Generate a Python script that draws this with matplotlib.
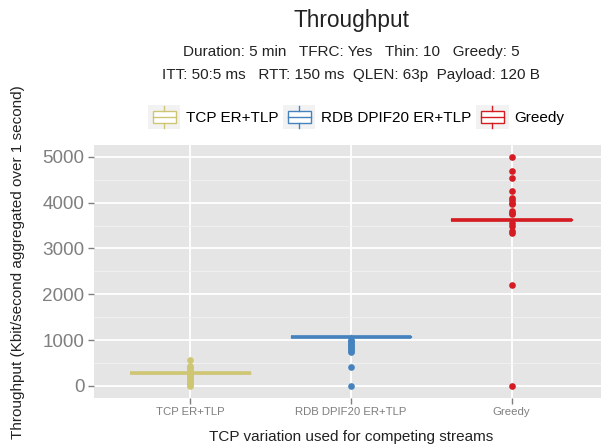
import matplotlib
matplotlib.use("Agg")
import matplotlib.pyplot as plt
from matplotlib.patches import Rectangle, Patch
from matplotlib.lines import Line2D
from matplotlib.legend_handler import HandlerBase
from matplotlib.ticker import MultipleLocator

plt.rcParams['font.family'] = ['Liberation Sans', 'DejaVu Sans']

# ---- data ----
categories = ["TCP ER+TLP", "RDB DPIF20 ER+TLP", "Greedy"]
colors = ["#CFC673", "#4682BE", "#D41C22"]
medians = [290, 1075, 3630]
q1 = [290, 1075, 3625]
q3 = [290, 1080, 3635]
whislo = [290, 1075, 3625]
whishi = [290, 1100, 3640]
outliers_tcp = [560, 430, 400, 370, 340, 310, 280, 250, 220, 190, 160, 130, 100, 70, 40, 10, 0]
outliers_rdb = [1010, 980, 950, 920, 890, 860, 830, 800, 770, 740, 414, 0]
outliers_greedy = [5000, 4700, 4530, 4260, 4100, 4050, 4000, 3970, 3820, 3780, 3750,
                   3550, 3500, 3380, 3330, 2200, 0]
outliers = [outliers_tcp, outliers_rdb, outliers_greedy]
yticks = [0, 1000, 2000, 3000, 4000, 5000]

fig = plt.figure(figsize=(6.01, 4.46), dpi=100)
W, H = 601, 446
l, r, t, b = 94, 608, 145, 397.7
ax = fig.add_axes([l / W, 1 - b / H, (r - l) / W, (b - t) / H])
ax.set_facecolor("#E5E5E5")

positions = list(range(1, len(categories) + 1))
for i, pos in enumerate(positions):
    st = dict(med=medians[i], q1=q1[i], q3=q3[i], whislo=whislo[i], whishi=whishi[i],
              fliers=outliers[i], label=categories[i])
    ax.bxp([st], positions=[pos], widths=0.75, showcaps=False, patch_artist=True,
           boxprops=dict(facecolor="white", edgecolor=colors[i], linewidth=1.0),
           medianprops=dict(color=colors[i], linewidth=2.6),
           whiskerprops=dict(color=colors[i], linewidth=1.0),
           flierprops=dict(marker='o', markerfacecolor=colors[i], markeredgecolor='none',
                           markersize=4.8, linestyle='none'),
           zorder=3)

ax.set_xlim(0.4, 3.6)
ax.set_ylim(-260, 5260)
ax.set_xticks(positions)
ax.set_xticklabels(categories, fontsize=8.2, color="#7F7F7F")
ax.set_yticks(yticks)
ax.set_yticklabels([str(v) for v in yticks], fontsize=13.6, color="#7F7F7F")
ax.yaxis.set_minor_locator(MultipleLocator(500))
ax.grid(which='major', color='white', linewidth=1.3, zorder=0)
ax.grid(which='minor', axis='y', color='#F2F2F2', linewidth=0.6, zorder=0)
ax.set_axisbelow(True)
ax.tick_params(axis='both', which='major', length=4, width=1, color="#7F7F7F", pad=3)
ax.tick_params(axis='y', which='minor', length=0)
for s in ax.spines.values():
    s.set_visible(False)

cx = (l + r) / 2 / W
fig.text(cx, 1 - 20 / H, "Throughput", ha='center', va='center', fontsize=16.3, color="#222222")
fig.text(cx, 1 - 52 / H, "Duration: 5 min   TFRC: Yes   Thin: 10   Greedy: 5",
         ha='center', va='center', fontsize=11, color="#222222")
fig.text(cx, 1 - 75 / H, "ITT: 50:5 ms   RTT: 150 ms  QLEN: 63p  Payload: 120 B",
         ha='center', va='center', fontsize=11, color="#222222")
fig.text(cx, 1 - 437 / H, "TCP variation used for competing streams", ha='center', va='center',
         fontsize=11, color="#222222")
fig.text(18 / W, 1 - 262 / H, "Throughput (Kbit/second aggregated over 1 second)", ha='center',
         va='center', rotation=90, fontsize=11, color="#222222")


class BoxHandler(HandlerBase):
    def create_artists(self, legend, orig_handle, xdescent, ydescent, width, height, fontsize, trans):
        c = orig_handle.get_edgecolor()
        x0, y0 = -xdescent, -ydescent
        arts = [Rectangle((x0, y0), width, height, facecolor='#F2F2F2', edgecolor='none', transform=trans)]
        arts.append(Rectangle((x0 + 0.14 * width, y0 + 0.27 * height), 0.72 * width, 0.46 * height,
                              facecolor='white', edgecolor=c, lw=1.0, transform=trans))
        arts.append(Line2D([x0 + 0.14 * width, x0 + 0.86 * width], [y0 + 0.5 * height] * 2, color=c,
                           lw=1.0, transform=trans))
        mx = x0 + 0.5 * width
        arts.append(Line2D([mx, mx], [y0 + 0.06 * height, y0 + 0.27 * height], color=c, lw=1.0, transform=trans))
        arts.append(Line2D([mx, mx], [y0 + 0.73 * height, y0 + 0.94 * height], color=c, lw=1.0, transform=trans))
        return arts


handles = [Patch(edgecolor=c, facecolor='white') for c in colors]
fig.legend(handles, categories, loc='center', bbox_to_anchor=(356 / W, 1 - 117 / H), ncol=3,
           frameon=False, fontsize=11, handler_map={Patch: BoxHandler()}, handlelength=2.1,
           handleheight=2.1, handletextpad=0.35, columnspacing=0.35, borderpad=0)

fig.savefig("out.png", dpi=100)
